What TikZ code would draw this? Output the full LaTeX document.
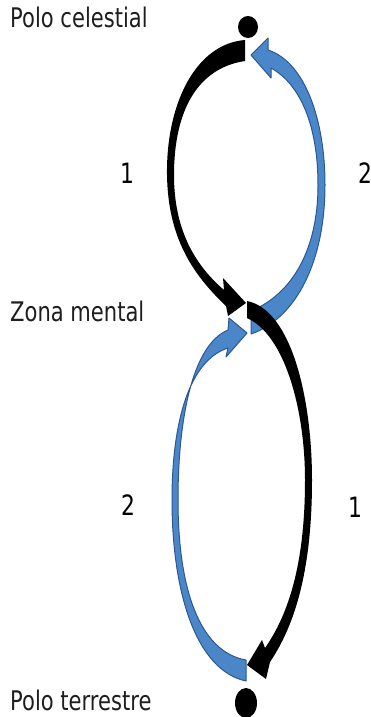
\documentclass[tikz,border=0pt]{standalone}
\usepackage{fontspec}
\setmainfont{DejaVu Sans}[FakeStretch=0.78]
\usetikzlibrary{shapes.geometric}

\definecolor{arrowblue}{RGB}{74,134,200}
\definecolor{arrowedge}{RGB}{44,88,145}
\definecolor{textgray}{RGB}{30,30,30}

\begin{document}
\begin{tikzpicture}[x=1pt,y=-1pt,
  placename/.style={font=\fontsize{27}{32}\selectfont,text=textgray,inner sep=0pt,anchor=base west},
  digit/.style={font=\fontsize{28}{32}\selectfont,text=black,inner sep=0pt,anchor=base},
  pole/.style={ellipse,fill=black,inner sep=0pt},
  blackarrow/.style={fill=black},
  bluearrow/.style={fill=arrowblue,draw=arrowedge,line width=1pt,line join=round}]
\useasboundingbox (0,0) rectangle (371,717);

% Poles
\node[pole,minimum width=20pt,minimum height=22pt] (celeste) at (248,27) {};
\node[pole,minimum width=22pt,minimum height=30pt] (terra) at (246,703) {};

% Upper loop: black on the left, blue on the right
\fill[blackarrow] (245,40) .. controls (195,44) and (166,105) .. (167,175)
  .. controls (168,235) and (190,272) .. (226,306)
  -- (228,316) -- (246,303) -- (223,278) -- (224,290)
  .. controls (195,265) and (174,230) .. (174,175)
  .. controls (174,110) and (198,68) .. (245,61) -- cycle;
\filldraw[bluearrow] (268,50) .. controls (305,62) and (325,120) .. (325,185)
  .. controls (325,260) and (297,318) .. (251,334)
  -- (251,311)
  .. controls (292,294) and (318,250) .. (318,185)
  .. controls (318,125) and (300,84) .. (271,68)
  -- (271,78) -- (251,55) -- (268,38) -- cycle;

% Lower loop: blue on the left, black on the right
\filldraw[bluearrow] (246,681) .. controls (195,670) and (172,590) .. (172,500)
  .. controls (172,420) and (190,360) .. (228,348)
  -- (226,357) -- (247,333) -- (229,318) -- (228,330)
  .. controls (192,345) and (178,420) .. (178,500)
  .. controls (178,590) and (200,652) .. (246,660) -- cycle;
\fill[blackarrow] (247,301) .. controls (292,310) and (312,400) .. (312,480)
  .. controls (312,570) and (295,625) .. (270,662)
  -- (266,679) -- (247,665) -- (262,640) -- (265,648)
  .. controls (288,615) and (305,565) .. (305,480)
  .. controls (305,410) and (285,335) .. (247,318) -- cycle;

% Names
\node[placename] (celestial) at (10,28) {Polo celestial};
\node[placename] (mental) at (10,321) {Zona mental};
\node[placename] (terrestre) at (10,710) {Polo terrestre};

% Order numbers
\node[digit] (upone) at (127,183) {1};
\node[digit] (uptwo) at (365,183) {2};
\node[digit] (lowtwo) at (128,515) {2};
\node[digit] (lowone) at (355,517) {1};
\end{tikzpicture}
\end{document}
